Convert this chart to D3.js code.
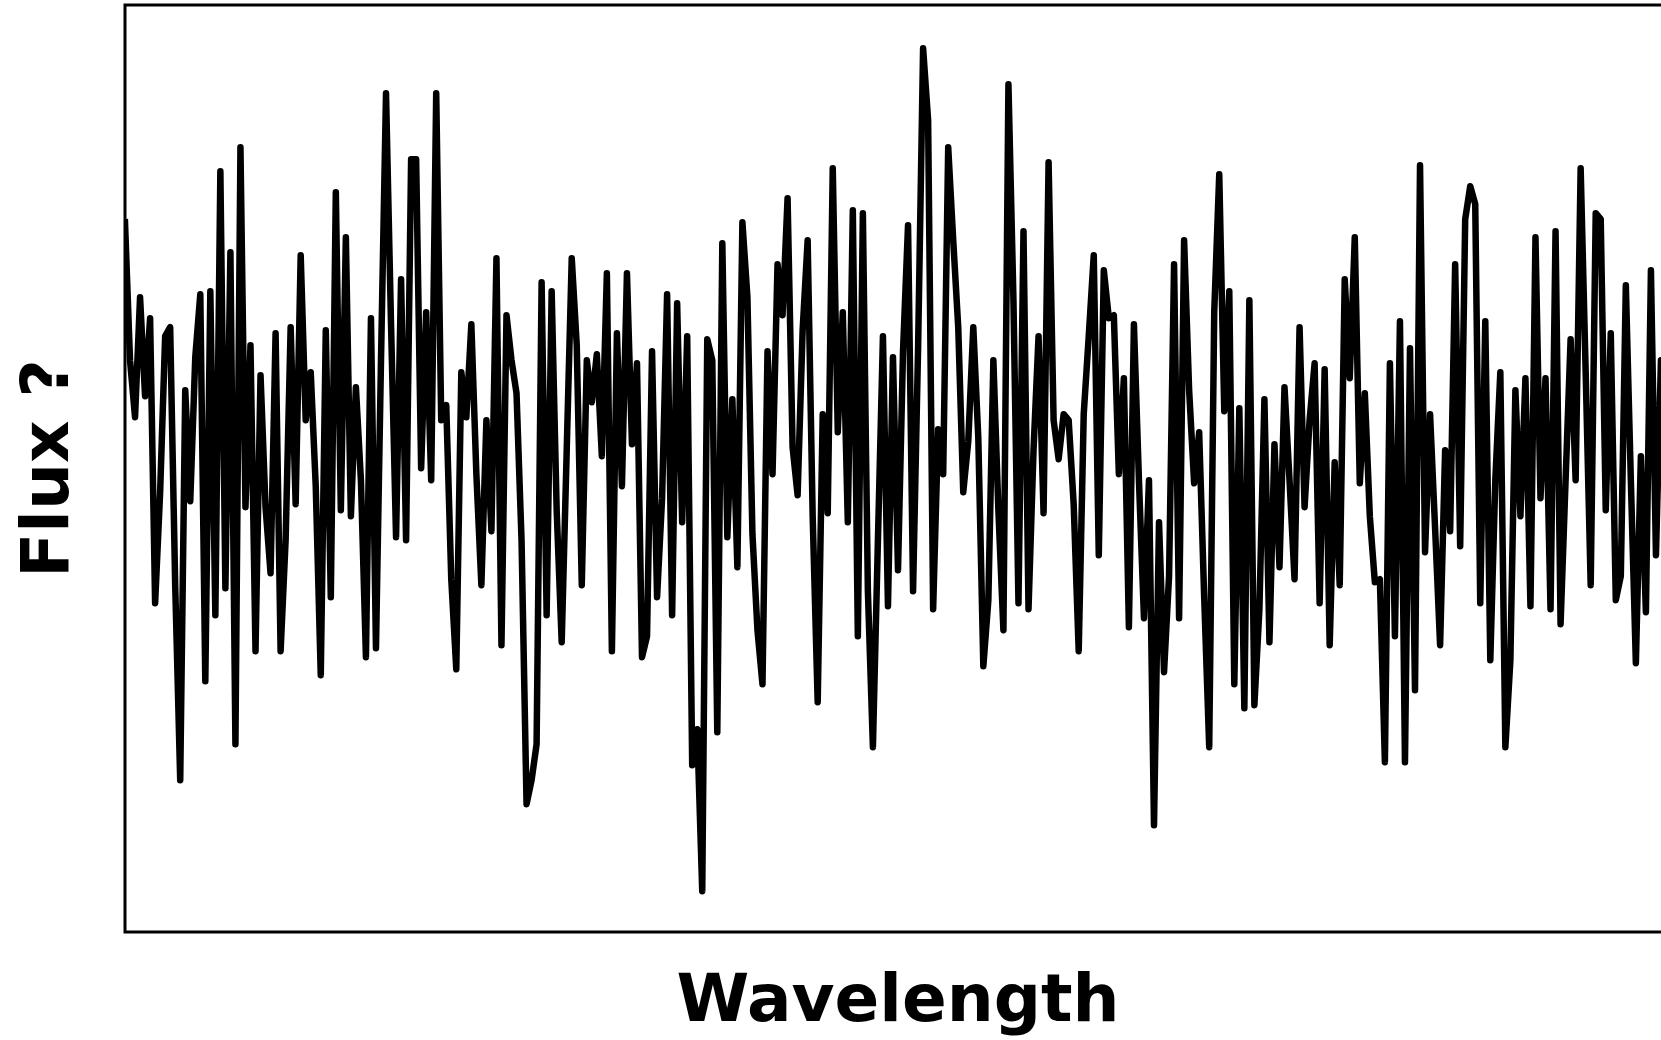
<!DOCTYPE html>
<html>
<head>
<meta charset="utf-8">
<script src="https://cdn.jsdelivr.net/npm/d3@7"></script>
<style>
  html, body { margin: 0; padding: 0; background: #fff; }
  svg { display: block; }
</style>
</head>
<body>
<svg id="chart" width="1661" height="1040"></svg>
<script>
// flux samples, evenly spaced in wavelength
var flux = [
  118, 95, 85.5, 105.5, 89, 102, 54.5, 73, 99, 100.5,
  57.5, 25, 90, 71.5, 95.5, 106, 41.5, 106.5, 52.5, 126.5,
  57, 113, 31, 130.5, 70.5, 97.5, 46.5, 92.5, 70.5, 59.5,
  99.5, 46.5, 65, 100.5, 71, 112.5, 85, 93, 74, 42.5,
  100, 55.5, 123, 70, 115.5, 69, 90.5, 75, 45.5, 102,
  47, 95, 139.5, 101, 65.5, 108.5, 65, 128.5, 128.5, 77,
  103, 75, 139.5, 85, 87.5, 58.5, 43.5, 93, 85.5, 101,
  76, 57.5, 85, 66.5, 112, 47.5, 102.5, 95, 89.5, 65,
  21, 25, 31, 108, 52.5, 106.5, 70, 48, 80, 112,
  97.5, 57.5, 95, 88, 96, 79, 109.5, 46.5, 99.5, 74,
  109.5, 81, 94.5, 45.5, 49, 96.5, 55.5, 72, 106, 52.5,
  104.5, 68, 99, 27.5, 33.5, 6.5, 98.5, 95, 33, 114.5,
  65.5, 88.5, 60.5, 118, 105.5, 66, 50, 41, 96.5, 76,
  111, 102.5, 122, 80.5, 72.5, 100, 115, 69, 38, 86,
  69.5, 127, 83, 103, 68, 120, 49, 119.5, 56.5, 30.5,
  65, 99, 54, 95.5, 60, 96.5, 117.5, 56.5, 97, 147,
  135, 53.5, 83.5, 76, 130.5, 115, 100.5, 73, 81.5, 100.5,
  82, 44, 55, 95, 70, 50, 141, 105, 54.5, 116.5,
  53.5, 80, 99, 69.5, 128, 85, 78.5, 86, 85, 71,
  46.5, 86, 99, 112.5, 62.5, 110, 102, 102.5, 76, 92,
  50.5, 101, 75, 52, 75, 17.5, 68, 43, 59, 111,
  52, 115, 90, 74.5, 83, 55.5, 30.5, 103, 126, 86.5,
  106.5, 41, 87, 37, 105, 37.5, 53.5, 88.5, 48, 81,
  60.5, 90.5, 75, 58.5, 100.5, 70.5, 85, 94.5, 54.5, 93.5,
  47.5, 78, 57.5, 108.5, 92, 115.5, 74.5, 89.5, 69, 58,
  58.5, 28, 94.5, 49, 101.5, 28, 97, 40, 127.5, 63,
  86, 67, 47.5, 80, 66.5, 111, 64, 118.5, 124, 121,
  54.5, 101.5, 45, 75, 93, 30.5, 45, 90, 69, 92,
  54, 115.5, 72, 92, 53.5, 116.5, 51, 75, 98.5, 75,
  127, 93, 57.5, 119.5, 118.5, 70, 99.5, 55, 59, 107.5,
  75, 44.5, 79, 53, 110, 62.5, 95, 70, 85
];

var fluxRange = [-0.3, 154.2];
var xLabel = "Wavelength";
var yLabel = "Flux ?";

var svg = d3.select("#chart");
// plot box (right edge runs past the window, as in the original)
var box = { left: 125, right: 1671, top: 5, bottom: 932 };

var x = d3.scaleLinear()
    .domain([0, flux.length - 1])
    .range([box.left, box.right]);
var y = d3.scaleLinear()
    .domain(fluxRange)
    .range([box.bottom, box.top]);

svg.append("rect")
    .attr("width", 1661).attr("height", 1040)
    .attr("fill", "#fff");

svg.append("clipPath").attr("id", "plot-clip")
  .append("rect")
    .attr("x", box.left).attr("y", box.top)
    .attr("width", box.right - box.left).attr("height", box.bottom - box.top);

var line = d3.line()
    .x(function(d, i) { return x(i); })
    .y(function(d) { return y(d); });

svg.append("path")
    .datum(flux)
    .attr("clip-path", "url(#plot-clip)")
    .attr("d", line)
    .attr("fill", "none")
    .attr("stroke", "#000")
    .attr("stroke-width", 6.5)
    .attr("stroke-linejoin", "round")
    .attr("stroke-linecap", "square");

// axes frame, no ticks
svg.append("rect")
    .attr("x", box.left).attr("y", box.top)
    .attr("width", box.right - box.left).attr("height", box.bottom - box.top)
    .attr("fill", "none")
    .attr("stroke", "#000")
    .attr("stroke-width", 3);

svg.append("text")
    .attr("x", (box.left + box.right) / 2)
    .attr("y", 1021)
    .attr("text-anchor", "middle")
    .style("font-family", "'DejaVu Sans', sans-serif")
    .style("font-weight", "bold")
    .style("font-size", "66px")
    .text(xLabel);

svg.append("text")
    .attr("transform", "translate(68," + ((box.top + box.bottom) / 2) + ") rotate(-90)")
    .attr("text-anchor", "middle")
    .style("font-family", "'DejaVu Sans', sans-serif")
    .style("font-weight", "bold")
    .style("font-size", "66px")
    .text(yLabel);
</script>
</body>
</html>
